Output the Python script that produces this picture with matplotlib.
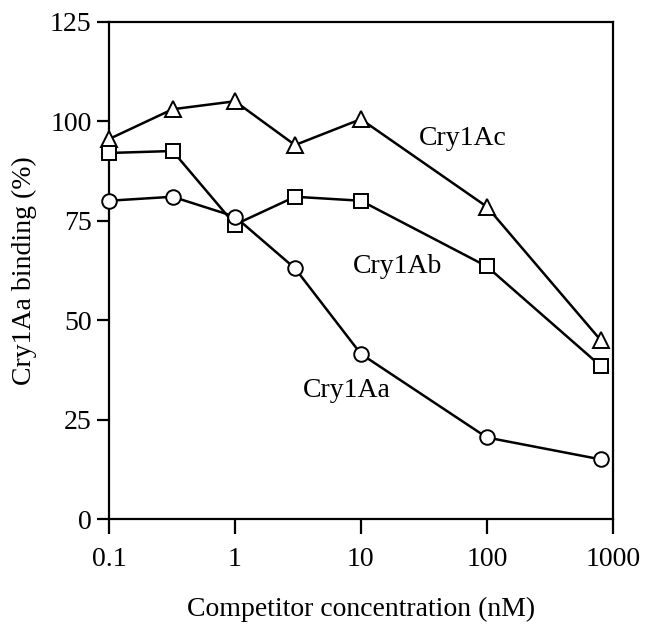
import matplotlib
matplotlib.use("Agg")
import matplotlib.pyplot as plt

conc = [0.1, 0.32, 1, 3, 10, 100, 800]
cry1ac = [95.5, 103, 105, 94, 100.5, 78.5, 45]
cry1ab = [92, 92.5, 74, 81, 80, 63.5, 38.5]
cry1aa = [80, 81, 76, 63, 41.5, 20.5, 15]

xticks = [0.1, 1, 10, 100, 1000]
xticklabels = ["0.1", "1", "10", "100", "1000"]
yticks = [0, 25, 50, 75, 100, 125]

plt.rcParams['font.family'] = ['Liberation Serif', 'DejaVu Serif']
fig = plt.figure(figsize=(6.45, 6.27), dpi=100)
ax = fig.add_axes([0.169, 0.1722, 0.781, 0.7932])

mk = dict(color='black', lw=1.8, markerfacecolor='white',
          markeredgecolor='black', markeredgewidth=1.4, clip_on=False, zorder=3)
ax.plot(conc, cry1ac, marker='^', markersize=11, **mk)
ax.plot(conc, cry1ab, marker='s', markersize=10.5, **mk)
ax.plot(conc, cry1aa, marker='o', markersize=10.5, **mk)

ax.set_xscale('log')
ax.set_xlim(0.1, 1000)
ax.set_ylim(0, 125)
ax.set_xticks(xticks)
ax.set_xticklabels(xticklabels)
ax.minorticks_off()
ax.set_yticks(yticks)
ax.tick_params(axis='y', direction='out', length=8.6, width=1.6, labelsize=20, pad=4)
ax.tick_params(axis='x', direction='out', length=11, width=1.6, labelsize=20, pad=9)
for s in ax.spines.values():
    s.set_linewidth(1.6)

fs = 20
ax.text(28.8, 94.0, "Cry1Ac", fontsize=fs, ha='left', va='baseline')
ax.text(8.65, 61.8, "Cry1Ab", fontsize=fs, ha='left', va='baseline')
ax.text(3.47, 30.7, "Cry1Aa", fontsize=fs, ha='left', va='baseline')

ax.set_xlabel("Competitor concentration (nM)", fontsize=20, labelpad=18)
ax.set_ylabel("Cry1Aa binding (%)", fontsize=20, labelpad=9)

fig.savefig("out.png", dpi=100)
